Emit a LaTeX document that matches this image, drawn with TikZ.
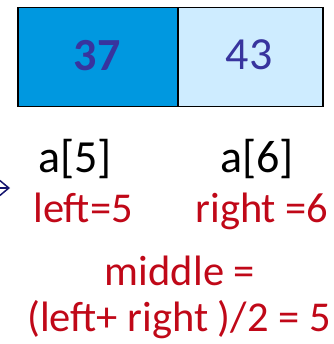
\documentclass[tikz,border=0pt]{standalone}
\usepackage{fontspec}
\setmainfont{Carlito}
\usetikzlibrary{arrows.meta}
\definecolor{cellA}{RGB}{0,152,224}
\definecolor{cellB}{RGB}{206,236,255}
\definecolor{numblue}{RGB}{56,52,158}
\definecolor{redtxt}{RGB}{192,8,24}
\definecolor{navy}{RGB}{20,20,110}
\tikzset{
  cell/.style={draw=black, line width=1.5pt, minimum height=99pt, inner sep=0pt, anchor=north west},
  num/.style={text=numblue, font=\fontsize{46}{52}\selectfont, anchor=base},
  idx/.style={text=black, font=\fontsize{46}{52}\selectfont, anchor=base},
  lab/.style={text=redtxt, font=\fontsize{42.5}{48}\selectfont, anchor=base},
}
\begin{document}
\begin{tikzpicture}[x=1pt,y=-1pt]
\useasboundingbox (0,0) rectangle (333,344);
\clip (0,0) rectangle (333,344);
\node[cell, fill=cellA, minimum width=160pt] (c1) at (17,7) {};
\node[cell, fill=cellB, minimum width=145pt] (c2) at (177,7) {};
\node[num, font=\fontsize{46}{52}\selectfont\bfseries] (n37) at (97,71) {37};
\node[num] (n43) at (249,70) {43};
\node[idx] (a5) at (75,172) {a[5]};
\node[idx] (a6) at (257,172) {a[6]};
\node[lab] (l) at (83,222) {left=5};
\node[lab] (r) at (262,222) {right =6};
\node[lab] (m) at (180,285) {middle =};
\node[lab] (f) at (179,331) {(left+ right )/2 = 5};
\coordinate (as) at (-14,188);
\coordinate (ae) at (10,188);
\draw[navy, line width=1.5pt, -{Straight Barb[length=9pt,width=15pt]}] (as) -- (ae);
\end{tikzpicture}
\end{document}
